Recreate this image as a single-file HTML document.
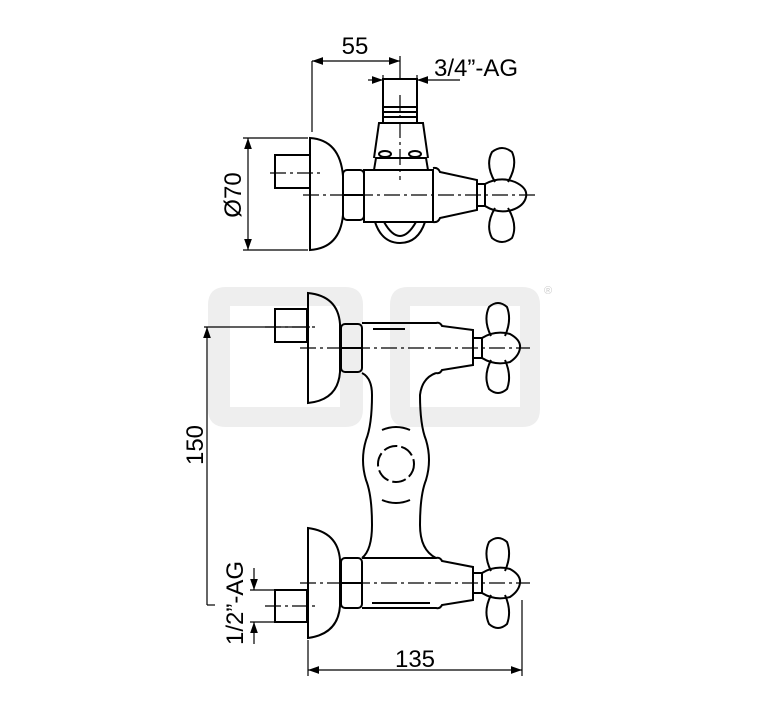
<!DOCTYPE html>
<html><head><meta charset="utf-8"><style>
html,body{margin:0;padding:0;background:#fff;}
svg{display:block;}
text{font-family:"Liberation Sans",Arial,sans-serif;fill:#000;}
</style></head><body>
<svg width="767" height="709" viewBox="0 0 767 709" xmlns="http://www.w3.org/2000/svg">
<defs>
<marker id="a" viewBox="0 0 10 10" refX="10" refY="5" markerWidth="11" markerHeight="11" markerUnits="userSpaceOnUse" orient="auto-start-reverse"><path d="M0,1.5 L10,5 L0,8.5 Z" fill="#000"/></marker>
</defs>
<g fill="#eeeeee">
<path fill-rule="evenodd" d="M226,287 H345 Q363,287 363,305 V409 Q363,427 345,427 H226 Q208,427 208,409 V305 Q208,287 226,287 Z M230,306 V407 H340 V306 Z"/>
<path fill-rule="evenodd" d="M408,287 H522 Q540,287 540,305 V409 Q540,427 522,427 H408 Q390,427 390,409 V305 Q390,287 408,287 Z M410,306 V407 H520 V306 Z"/>
</g>
<text x="544" y="294" font-size="11" style="fill:#ccc">®</text>

<g fill="none" stroke="#000" stroke-width="2">
<rect x="275" y="155" width="35" height="33"/>
<path d="M310,138 V250 Q340,248 343,215 V176 Q340,140 310,138 Z"/>
<rect x="343" y="170" width="21" height="50" rx="4"/>
<line x1="343" y1="195" x2="364" y2="195"/>
<rect x="364" y="170" width="69" height="52"/>
<path d="M433,168 Q438,167 440,172 L477,180 V210 L440,218 Q438,223 433,222"/>
<path d="M375,222 Q382,243 400,243 Q418,243 425,222"/>
<path d="M384,222 Q392,236 400,236 Q408,236 416,222"/>
<path d="M374,170 L376,158 H426 L428,170"/>
<ellipse cx="385" cy="154" rx="6" ry="3"/>
<ellipse cx="415" cy="154" rx="6" ry="3"/>
<path d="M374,158 L379,123 H423 L428,158"/>
<rect x="383" y="107" width="34" height="16"/>
<line x1="383" y1="112" x2="417" y2="112"/><line x1="383" y1="117" x2="417" y2="117"/>
<rect x="383" y="79" width="34" height="28"/>
<rect x="477" y="184" width="8" height="22"/>
<path d="M485,184 Q500,176 515,182 Q528,188 526,197 Q524,206 512,210 Q498,214 485,206 Z"/>
<path d="M495,182 Q485,165 492,152 Q502,144 512,152 Q518,165 508,182"/>
<path d="M495,208 Q485,225 492,238 Q502,246 512,238 Q518,225 508,208"/>

<rect x="275" y="309" width="32" height="33"/>
<path d="M308,293 V403 Q338,400 340,372 V324 Q338,296 308,293 Z"/>
<rect x="341" y="324" width="21" height="48" rx="4"/>
<line x1="341" y1="348" x2="362" y2="348"/>
<path d="M362,323 H436 Q440,322 442,326 L473,330 V365 L442,370 Q440,374 436,373"/>
<line x1="373" y1="329" x2="405" y2="329"/>
<rect x="473" y="338" width="9" height="20"/>
<path d="M482,338 Q495,330 510,334 Q521,340 520,348 Q519,356 510,362 Q495,366 482,358 Z"/>
<path d="M491,336 Q483,320 489,307 Q498,299 507,307 Q512,320 505,336"/>
<path d="M491,360 Q483,376 489,389 Q498,397 507,389 Q512,376 505,360"/>
<path d="M362,373 Q372,378 372,395 Q372,425 366,440 Q360,460 366,480 Q372,495 372,525 Q372,550 362,558"/>
<path d="M436,373 Q422,378 420,395 Q420,425 426,440 Q432,460 426,480 Q420,495 420,525 Q420,550 436,558"/>
<path d="M382,430 Q396,424 410,430"/>
<path d="M382,500 Q396,506 410,500"/>
<circle cx="396" cy="464" r="18" stroke-dasharray="14 4"/>
<rect x="275" y="590" width="32" height="32"/>
<path d="M308,528 V638 Q338,634 340,606 V560 Q338,532 308,528 Z"/>
<rect x="341" y="558" width="21" height="50" rx="4"/>
<line x1="341" y1="583" x2="362" y2="583"/>
<path d="M362,608 H436 Q440,609 442,605 L473,600 V567 L442,561 Q440,557 436,558 H362"/>
<line x1="372" y1="603" x2="430" y2="603"/>
<rect x="473" y="573" width="9" height="20"/>
<path d="M482,573 Q495,565 510,569 Q521,575 520,583 Q519,591 510,597 Q495,601 482,593 Z"/>
<path d="M491,571 Q483,555 489,542 Q498,534 507,542 Q512,555 505,571"/>
<path d="M491,595 Q483,611 489,624 Q498,632 507,624 Q512,611 505,595"/>
</g>

<g stroke="#000" stroke-width="1.2" stroke-dasharray="16 4 3 4" fill="none">
<line x1="270" y1="173" x2="320" y2="173"/>
<line x1="303" y1="195" x2="535" y2="195"/>
<line x1="400" y1="95" x2="400" y2="180"/>
<line x1="265" y1="327" x2="315" y2="327"/>
<line x1="300" y1="348" x2="530" y2="348"/>
<line x1="300" y1="583" x2="530" y2="583"/>
<line x1="265" y1="606" x2="315" y2="606"/>
</g>

<g stroke="#000" stroke-width="1.2" fill="none">
<line x1="312" y1="61" x2="312" y2="132"/>
<line x1="400" y1="56" x2="400" y2="80"/>
<line x1="312" y1="61" x2="400" y2="61" marker-start="url(#a)" marker-end="url(#a)"/>
<line x1="368" y1="80" x2="383" y2="80" marker-end="url(#a)"/>
<line x1="460" y1="80" x2="417" y2="80" marker-end="url(#a)"/>
<line x1="383" y1="75" x2="383" y2="107"/>
<line x1="417" y1="75" x2="417" y2="107"/>
<line x1="243" y1="138" x2="308" y2="138"/>
<line x1="243" y1="250" x2="308" y2="250"/>
<line x1="248" y1="138" x2="248" y2="250" marker-start="url(#a)" marker-end="url(#a)"/>
<line x1="204" y1="327" x2="310" y2="327"/>
<line x1="207" y1="327" x2="207" y2="605" marker-start="url(#a)"/>
<line x1="207" y1="605" x2="215" y2="605"/>
<line x1="250" y1="590" x2="275" y2="590"/>
<line x1="250" y1="622" x2="275" y2="622"/>
<line x1="254" y1="568" x2="254" y2="590" marker-end="url(#a)"/>
<line x1="254" y1="644" x2="254" y2="622" marker-end="url(#a)"/>
<line x1="308" y1="640" x2="308" y2="676"/>
<line x1="522" y1="600" x2="522" y2="676"/>
<line x1="308" y1="670" x2="522" y2="670" marker-start="url(#a)" marker-end="url(#a)"/>
</g>

<text x="355" y="54" font-size="24" text-anchor="middle">55</text>
<text x="434" y="76" font-size="24">3/4”-AG</text>
<text transform="translate(241,195) rotate(-90)" font-size="24" text-anchor="middle">Ø70</text>
<text transform="translate(203,445) rotate(-90)" font-size="24" text-anchor="middle">150</text>
<text transform="translate(243,603) rotate(-90)" font-size="24" text-anchor="middle">1/2”-AG</text>
<text x="415" y="667" font-size="24" text-anchor="middle">135</text>
</svg>
</body></html>
